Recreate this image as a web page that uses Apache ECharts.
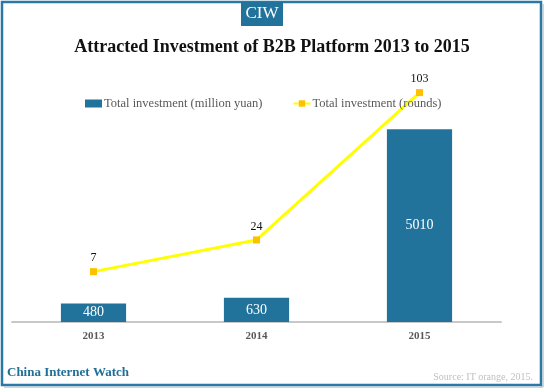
<!DOCTYPE html>
<html><head><meta charset="utf-8">
<script src="https://cdn.jsdelivr.net/npm/echarts@6/dist/echarts.min.js"></script>
<style>html,body{margin:0;padding:0;background:#fff}#c{width:544px;height:388px}</style>
</head><body><div id="c"></div>
<script>
var categories = ['2013', '2014', '2015'];
var investmentMillionYuan = [480, 630, 5010];
var investmentRounds = [7, 24, 103];
var barName = 'Total investment (million yuan)';
var lineName = 'Total investment (rounds)';

var serif = '"Liberation Serif", "DejaVu Serif", serif';
var chart = echarts.init(document.getElementById('c'));
chart.setOption({
  animation: false,
  backgroundColor: '#ffffff',
  textStyle: { fontFamily: serif },
  title: {
    text: 'Attracted Investment of B2B Platform 2013 to 2015',
    left: 'center', top: 33,
    textStyle: { fontFamily: serif, fontSize: 18, fontWeight: 'bold', color: '#111' }
  },
  legend: {
    top: 92, left: 80, itemGap: 30, itemWidth: 17, itemHeight: 8,
    textStyle: { fontFamily: serif, fontSize: 12.5, color: '#595959', padding: [0, 0, 0, -3] },
    data: [
      { name: barName, icon: 'rect' },
      { name: lineName }
    ]
  },
  grid: { left: 12, right: 43, top: 90, bottom: 66 },
  xAxis: {
    type: 'category', data: categories,
    axisLine: { lineStyle: { color: '#c8c8c8', width: 2 } },
    axisTick: { show: false },
    axisLabel: { color: '#595959', fontSize: 11, fontWeight: 'bold', fontFamily: serif, margin: 9 }
  },
  yAxis: [
    { type: 'value', min: 0, max: 6030, show: false, splitLine: { show: false } },
    { type: 'value', min: -20, max: 104.4, show: false, splitLine: { show: false } }
  ],
  series: [
    {
      name: barName, type: 'bar', data: investmentMillionYuan, barWidth: '40%',
      itemStyle: { color: '#21739c' },
      label: { show: true, position: 'inside', color: '#fff', fontSize: 14, fontFamily: serif }
    },
    {
      name: lineName, type: 'line', yAxisIndex: 1, data: investmentRounds,
      symbol: 'rect', symbolSize: 7,
      lineStyle: { color: '#ffff00', width: 3 },
      itemStyle: { color: '#ffc000' },
      label: { show: true, position: 'top', color: '#111', fontSize: 12, fontFamily: serif, distance: 4 }
    }
  ],
  graphic: [
    { type: 'rect', shape: { x: 2, y: 2, width: 539, height: 383 }, style: { fill: 'none', stroke: '#2a79a5', lineWidth: 2.5 } },
    { type: 'line', shape: { x1: 4, y1: 387, x2: 543, y2: 387 }, style: { stroke: '#b9c9d4', lineWidth: 1.5 } },
    { type: 'line', shape: { x1: 543, y1: 4, x2: 543, y2: 387 }, style: { stroke: '#b9c9d4', lineWidth: 1.5 } },
    { type: 'rect', shape: { x: 241, y: 2, width: 42, height: 24 }, style: { fill: '#21739c' } },
    { type: 'text', x: 262, y: 14, style: { text: 'CIW', fill: '#fff', font: '17px ' + serif, textAlign: 'center', textVerticalAlign: 'middle' } },
    { type: 'text', x: 7, y: 373, style: { text: 'China Internet Watch', fill: '#1f6f96', font: 'bold 13px ' + serif, textVerticalAlign: 'middle' } },
    { type: 'text', x: 533, y: 377, style: { text: 'Source: IT orange, 2015.', fill: '#c0c0c0', font: '10px ' + serif, textAlign: 'right', textVerticalAlign: 'middle' } }
  ]
});
</script></body></html>
